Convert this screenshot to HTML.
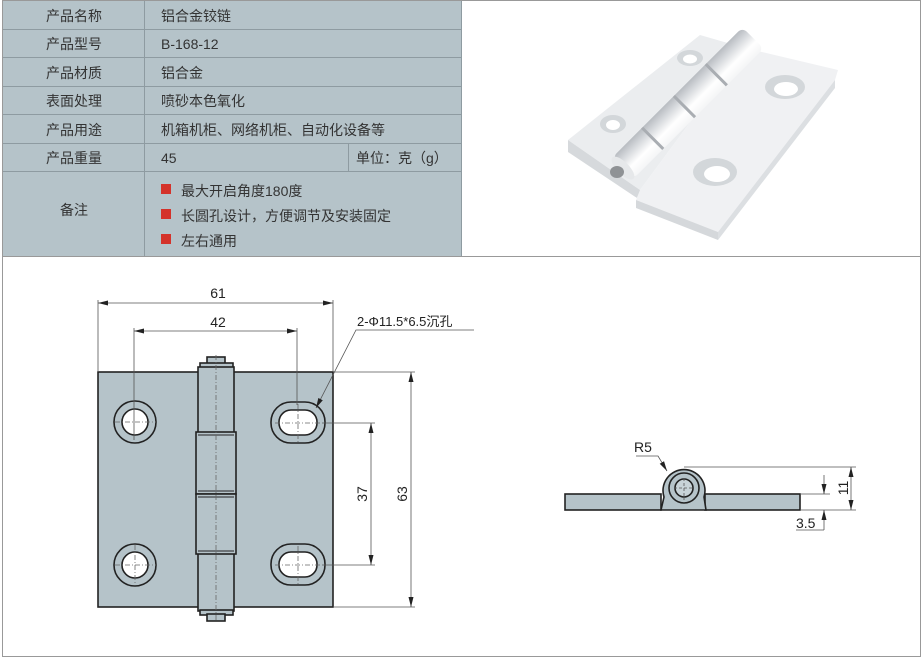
<!DOCTYPE html>
<html><head><meta charset="utf-8"><style>
body{margin:0;width:924px;height:661px;background:#fff;overflow:hidden;font-family:"Liberation Sans","Noto Sans CJK SC",sans-serif}
svg{position:absolute;left:0;top:0}
</style></head><body>
<svg width="924" height="661" viewBox="0 0 924 661" xmlns="http://www.w3.org/2000/svg">
<defs>
<marker id="a" viewBox="0 0 10 6" refX="10" refY="3" markerWidth="10" markerHeight="6" orient="auto-start-reverse" markerUnits="userSpaceOnUse"><path d="M0,0.5 L10,3 L0,5.5z" fill="#222"/></marker>
<linearGradient id="pg" x1="0" y1="0" x2="0" y2="1"><stop offset="0" stop-color="#f4f5f6"/><stop offset="0.35" stop-color="#ffffff"/><stop offset="0.75" stop-color="#d3d6da"/><stop offset="1" stop-color="#b8bcc1"/></linearGradient>
</defs>
<!-- frame -->
<rect x="2.5" y="0.5" width="918" height="656" fill="none" stroke="#999"/>
<line x1="2" y1="256.5" x2="921" y2="256.5" stroke="#999"/>
<!-- table -->
<rect x="3" y="1" width="458" height="255" fill="#b5c3c9"/>
<g stroke="#8e9ba1" stroke-width="1">
<line x1="3" y1="29.5" x2="461" y2="29.5"/><line x1="3" y1="57.5" x2="461" y2="57.5"/>
<line x1="3" y1="86.5" x2="461" y2="86.5"/><line x1="3" y1="114.5" x2="461" y2="114.5"/>
<line x1="3" y1="143.5" x2="461" y2="143.5"/><line x1="3" y1="171.5" x2="461" y2="171.5"/>
<line x1="144.5" y1="1" x2="144.5" y2="256"/><line x1="348.5" y1="143" x2="348.5" y2="171"/>
<line x1="461.5" y1="1" x2="461.5" y2="256"/>
</g>
<g fill="#333" font-size="14" font-family="Liberation Sans,Noto Sans CJK SC,sans-serif">
<g text-anchor="middle">
<text x="74" y="21">产品名称</text><text x="74" y="49">产品型号</text><text x="74" y="78">产品材质</text>
<text x="74" y="106">表面处理</text><text x="74" y="135">产品用途</text><text x="74" y="163">产品重量</text>
<text x="74" y="215">备注</text></g>
<text x="161" y="21">铝合金铰链</text><text x="161" y="49">B-168-12</text><text x="161" y="78">铝合金</text>
<text x="161" y="106">喷砂本色氧化</text><text x="161" y="135">机箱机柜、网络机柜、自动化设备等</text>
<text x="161" y="163">45</text><text x="356" y="163">单位：克（g）</text>
<text x="181" y="196">最大开启角度180度</text><text x="181" y="221">长圆孔设计，方便调节及安装固定</text><text x="181" y="246">左右通用</text>
</g>
<rect x="161" y="184" width="10" height="10" fill="#d4322a"/><rect x="161" y="209" width="10" height="10" fill="#d4322a"/><rect x="161" y="234" width="10" height="10" fill="#d4322a"/>
<!-- photo -->
<g>
<polygon points="568,140 700,35 745,48 640,190" fill="#ebedef"/>
<polygon points="568,140 640,190 640,200 568,152" fill="#d6d9dc"/>
<polygon points="640,190 745,48 838,70 835,80 718,232 636,200" fill="#f0f1f3"/>
<polygon points="636,200 718,232 718,240 636,208" fill="#d5d8db"/>
<polygon points="718,232 835,80 835,88 718,240" fill="#dcdfe2"/>
<ellipse cx="690" cy="58" rx="13" ry="8" fill="#d3d7da"/><ellipse cx="690" cy="59" rx="7" ry="4.5" fill="#fff"/>
<ellipse cx="613" cy="124" rx="13" ry="9" fill="#d3d7da"/><ellipse cx="613" cy="125" rx="7" ry="5" fill="#fff"/>
<ellipse cx="785" cy="87" rx="20" ry="12" fill="#d3d7da"/><ellipse cx="786" cy="89" rx="12" ry="7" fill="#fff"/>
<ellipse cx="715" cy="172" rx="22" ry="14" fill="#d3d7da"/><ellipse cx="717" cy="174" rx="13" ry="8" fill="#fff"/>
<g transform="translate(688 103) rotate(135)">
<rect x="-92" y="-15" width="184" height="30" rx="6" fill="url(#pg)"/>
<line x1="-40" y1="-15" x2="-40" y2="15" stroke="#a9adb2" stroke-width="3"/>
<line x1="5" y1="-15" x2="5" y2="15" stroke="#a9adb2" stroke-width="3"/>
<line x1="50" y1="-15" x2="50" y2="15" stroke="#a9adb2" stroke-width="3"/>
<ellipse cx="92" cy="0" rx="6" ry="15" fill="#e6e8ea"/>
</g>
<ellipse cx="617" cy="172" rx="7" ry="6" fill="#8f9295"/>
</g>
<!-- front view -->
<g stroke="#222" stroke-width="1.6" fill="#b5c3c9">
<rect x="98" y="372" width="235" height="235"/>
<circle cx="135" cy="422" r="21"/><circle cx="135" cy="422" r="13" fill="#fff"/>
<circle cx="135" cy="565" r="21"/><circle cx="135" cy="565" r="13" fill="#fff"/>
<rect x="271" y="402" width="54" height="41" rx="20"/><rect x="279" y="410" width="38" height="25" rx="12" fill="#fff"/>
<rect x="271" y="544" width="54" height="41" rx="20"/><rect x="279" y="552" width="38" height="25" rx="12" fill="#fff"/>
<rect x="207" y="357" width="18" height="7"/><rect x="200" y="363" width="33" height="5"/>
<rect x="198" y="367" width="36" height="244"/>
<rect x="200" y="610" width="33" height="5"/><rect x="207" y="614" width="18" height="7"/>
<rect x="196" y="432" width="40" height="62"/><rect x="196" y="494" width="40" height="60"/>
<line x1="198" y1="435" x2="234" y2="435" stroke-width="1"/><line x1="198" y1="491" x2="234" y2="491" stroke-width="1"/>
<line x1="198" y1="497" x2="234" y2="497" stroke-width="1"/><line x1="198" y1="551" x2="234" y2="551" stroke-width="1"/>
</g>
<g stroke="#666" stroke-width="0.8" stroke-dasharray="5,2,1,2" fill="none">
<line x1="216" y1="355" x2="216" y2="622"/>
<line x1="115" y1="422" x2="156" y2="422"/><line x1="115" y1="565" x2="156" y2="565"/>
<line x1="275" y1="423" x2="322" y2="423"/><line x1="275" y1="565" x2="322" y2="565"/>
<line x1="298" y1="404" x2="298" y2="443"/><line x1="298" y1="546" x2="298" y2="585"/>
<line x1="135" y1="545" x2="135" y2="585"/>
</g>
<g stroke="#555" stroke-width="0.8" fill="none">
<line x1="98" y1="300" x2="98" y2="372"/><line x1="333" y1="300" x2="333" y2="372"/>
<line x1="134" y1="328" x2="134" y2="440"/><line x1="297" y1="328" x2="297" y2="405"/>
<line x1="333" y1="372" x2="415" y2="372"/><line x1="333" y1="607" x2="415" y2="607"/>
<line x1="322" y1="423" x2="375" y2="423"/><line x1="322" y1="565" x2="375" y2="565"/>
<line x1="98" y1="303" x2="333" y2="303" marker-start="url(#a)" marker-end="url(#a)"/>
<line x1="134" y1="331" x2="297" y2="331" marker-start="url(#a)" marker-end="url(#a)"/>
<line x1="411" y1="372" x2="411" y2="607" marker-start="url(#a)" marker-end="url(#a)"/>
<line x1="371" y1="423" x2="371" y2="565" marker-start="url(#a)" marker-end="url(#a)"/>
<polyline points="474,330 356,330 316,408" marker-end="url(#a)"/>
</g>
<g fill="#222" font-size="14" font-family="Liberation Sans,Noto Sans CJK SC,sans-serif">
<text x="218" y="298" text-anchor="middle">61</text>
<text x="218" y="327" text-anchor="middle">42</text>
<text x="357" y="326" font-size="13">2-Φ11.5*6.5沉孔</text>
<text transform="translate(367 494) rotate(-90)" text-anchor="middle">37</text>
<text transform="translate(407 494) rotate(-90)" text-anchor="middle">63</text>
</g>
<!-- side view -->
<g stroke="#222" stroke-width="1.6" fill="#b5c3c9">
<rect x="565" y="494" width="96" height="16"/>
<rect x="705" y="494" width="95" height="16"/>
<path d="M661,510 L664,497 A21,21 0 1 1 704,497 L706,510 Z"/>
<circle cx="684" cy="488" r="15"/>
<circle cx="684" cy="488" r="9" fill="#c8d3d8"/>
</g>
<g stroke="#555" stroke-width="0.8" fill="none">
<line x1="684" y1="467" x2="856" y2="467"/><line x1="800" y1="494" x2="830" y2="494"/>
<line x1="800" y1="510" x2="856" y2="510"/>
<line x1="851" y1="467" x2="851" y2="510" marker-start="url(#a)" marker-end="url(#a)"/>
<line x1="824" y1="475" x2="824" y2="494" marker-end="url(#a)"/>
<line x1="824" y1="530" x2="824" y2="510" marker-end="url(#a)"/>
<line x1="824" y1="530" x2="796" y2="530"/>
<polyline points="636,456 658,456 667,471" marker-end="url(#a)"/>
<line x1="684" y1="478" x2="684" y2="500" stroke-dasharray="3,2"/><line x1="674" y1="488" x2="694" y2="488" stroke-dasharray="3,2"/>
</g>
<g fill="#222" font-size="14" font-family="Liberation Sans,sans-serif">
<text x="634" y="452">R5</text>
<text x="796" y="528">3.5</text>
<text transform="translate(848 488) rotate(-90)" text-anchor="middle">11</text>
</g>
</svg>
</body></html>
